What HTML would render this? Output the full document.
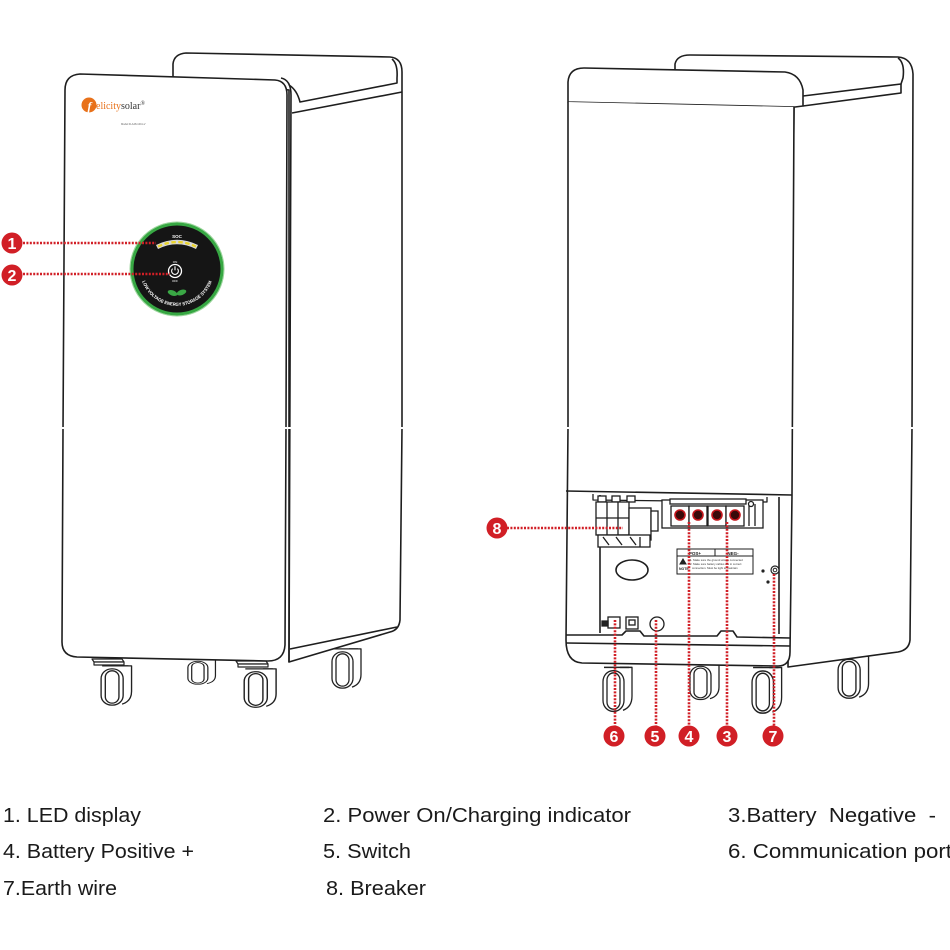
<!DOCTYPE html>
<html><head><meta charset="utf-8"><style>
html,body{margin:0;padding:0;background:#fff;}
svg{display:block;}
</style></head><body>
<svg width="950" height="950" viewBox="0 0 950 950" xmlns="http://www.w3.org/2000/svg">
<defs>
<g id="cst" stroke="#222" stroke-width="1.3" fill="none">
  <path d="M19,4 H31 V30 Q31,40 22,43"/>
  <rect x="2" y="7" width="21" height="37" rx="10" fill="#fff"/>
  <rect x="6" y="9" width="13" height="33" rx="6.5" fill="#fff"/>
  <path d="M3,4 H28"/>
</g>
<g id="lock" stroke="#222" stroke-width="1.2" fill="#fff">
  <path d="M0,0 H30 L32,3 H2 Z"/>
  <path d="M2,3 H32 V6 H2 Z"/>
</g>
<path id="arcp" d="M141.3,278.6 A37,37 0 0 0 212.7,278.6"/>
</defs>

<!-- ================= LEFT UNIT ================= -->
<g stroke="#1e1e1e" stroke-width="1.6" fill="none" stroke-linejoin="round">
  <!-- casters behind -->
  <use href="#cst" transform="translate(186,657) scale(0.95,0.62)"/>
  <use href="#cst" transform="translate(330,645) scale(1,0.98)"/>
  <!-- side/back -->
  <path d="M173,77 L173,64 Q174,54 186,53 L390,57 Q402,58 402,72 L402,428 L400,620 Q399,630 390,632 L289,662 L289,90 Z" fill="#fff"/>
  <path d="M392,59 Q398,64 397,78 L397,83 L300,102 Q297,90 289,85"/>
  <path d="M402,92 L292,113"/>
  <path d="M397,627 L290,649"/>
  <!-- front casters -->
  <use href="#cst" transform="translate(99,662) scale(1.05,0.98)"/>
  <use href="#lock" transform="translate(92,659)"/>
  <use href="#cst" transform="translate(242,665) scale(1.1,0.96)"/>
  <use href="#lock" transform="translate(236,661)"/>
  <!-- second edge -->
  <path d="M281,78 Q291,80 291,95 L289,662"/>
  <!-- front face -->
  <path d="M65,90 Q65,75 80,74 L275,80 Q287,81 287,95 L286,428 L285,645 Q284,661 268,661 L77,657 Q62,656 62,642 L63,431 L65,90 Z" fill="#fff"/>
</g>
<!-- seam breaks -->
<g fill="#fff">
  <rect x="60" y="427" width="7" height="2"/>
  <rect x="283" y="427" width="11" height="2"/>
  <rect x="399" y="427" width="6" height="2"/>
</g>

<!-- logo -->
<circle cx="89" cy="105" r="7.5" fill="#e8711a"/>
<text x="89.5" y="110" font-family="Liberation Serif, serif" font-weight="bold" font-style="italic" font-size="12" fill="#fff" text-anchor="middle">f</text>
<text x="96" y="109" font-family="Liberation Serif, serif" font-size="10" fill="#e8711a">elicity<tspan fill="#333">solar</tspan><tspan fill="#333" font-size="6" dy="-4">®</tspan></text>
<text x="121" y="125" font-family="Liberation Sans, sans-serif" font-size="2.6" fill="#666">Model:FLA48-100-LV</text>

<!-- display -->
<circle cx="177" cy="269" r="47" fill="none" stroke="#9bd59b" stroke-width="1"/>
<circle cx="177" cy="269" r="45" fill="#151515" stroke="#37a843" stroke-width="3"/>
<text x="177" y="238" font-family="Liberation Sans, sans-serif" font-weight="bold" font-size="4.5" fill="#fff" text-anchor="middle">SOC</text>
<path d="M157,247 Q177,237 197,247" fill="none" stroke="#d8d8d8" stroke-width="4.5"/>
<path d="M158,246.6 Q177,237.4 196,246.6" fill="none" stroke="#e9d32c" stroke-width="2.4" stroke-dasharray="4.5,2.5"/>
<text x="175" y="263" font-family="Liberation Sans, sans-serif" font-size="3" fill="#fff" text-anchor="middle">ON</text>
<circle cx="175" cy="271" r="6.5" fill="#111" stroke="#fff" stroke-width="1.3"/>
<path d="M172.6,268.6 A3.4,3.4 0 1 0 177.4,268.6" fill="none" stroke="#fff" stroke-width="1.1"/>
<path d="M175,266.3 V270.3" stroke="#fff" stroke-width="1.1"/>
<text x="175" y="282" font-family="Liberation Sans, sans-serif" font-size="3" fill="#fff" text-anchor="middle">OFF</text>
<ellipse cx="172.5" cy="293" rx="5" ry="2.6" fill="#3aa845" transform="rotate(20 172.5 293)"/>
<ellipse cx="181.5" cy="292.5" rx="5" ry="2.6" fill="#3aa845" transform="rotate(-20 181.5 292.5)"/>
<text font-family="Liberation Sans, sans-serif" font-weight="bold" font-size="4.6" fill="#fff"><textPath href="#arcp" startOffset="3" textLength="90" lengthAdjust="spacingAndGlyphs">LOW VOLTAGE ENERGY STORAGE SYSTEM</textPath></text>

<!-- ================= RIGHT UNIT ================= -->
<g stroke="#1e1e1e" stroke-width="1.6" fill="none" stroke-linejoin="round">
  <use href="#cst" transform="translate(688,660) scale(1,0.9)"/>
  <use href="#cst" transform="translate(836,652) scale(1.05,1.05)"/>
  <!-- handle/side -->
  <path d="M675,70 L675,64 Q677,55 690,55 L898,57 Q912,58 913,74 L912,428 L910,640 Q909,650 898,652 L788,667 L794,107 Z" fill="#fff"/>
  <path d="M898,58 Q905,63 903,78 L901,84 L803,96"/>
  <path d="M901,84 L901,93 L803,106"/>
  <use href="#cst" transform="translate(601,663) scale(1,1.1)"/>
  <use href="#cst" transform="translate(750,663) scale(1.02,1.14)"/>
  <!-- lid -->
  <path d="M568,102 L568,82 Q569,68 584,68 L785,72 Q800,74 803,90 L803,106 L795,107 L568,102 Z" fill="#fff"/>
  <!-- back face -->
  <path d="M568,102 L568,428 L566,640 Q566,662 582,663 L778,666 Q790,666 790,652 L792,495 L794,107" fill="#fff"/>
  <path d="M566,491 L792,495"/>
  <path d="M600,495 L600,633"/>
  <path d="M779,497 L779,634"/>
  <path d="M593,494 L593,500 L767,502 L767,497" stroke-width="1.3"/>
  <path d="M566,635 L622,635 L626,631 L640,631 L644,636 L717,636 L721,631 L733,631 L737,637 L790,638"/>
  <path d="M566,643 L790,646"/>
</g>
<g fill="#fff">
  <rect x="564" y="427" width="7" height="2"/>
  <rect x="790" y="427" width="7" height="2"/>
  <rect x="909" y="427" width="6" height="2"/>
</g>

<!-- breaker -->
<g stroke="#1e1e1e" stroke-width="1.3" fill="#fff">
  <rect x="598" y="496" width="8" height="6"/>
  <rect x="612" y="496" width="8" height="6"/>
  <rect x="627" y="496" width="8" height="6"/>
  <rect x="596" y="502" width="33" height="33"/>
  <path d="M607,502 V535 M618,502 V535 M596,518 H629" fill="none"/>
  <rect x="629" y="508" width="22" height="32"/>
  <rect x="651" y="511" width="7" height="20"/>
  <rect x="598" y="535" width="52" height="12"/>
  <path d="M603,537 L609,545 M616,537 L622,545 M630,537 L636,545 M640,537 V547" fill="none"/>
</g>
<!-- terminals -->
<g stroke="#1e1e1e" stroke-width="1.3" fill="#fff">
  <rect x="662" y="500" width="101" height="28"/>
  <rect x="670" y="499" width="76" height="5"/>
  <rect x="671" y="506" width="18" height="20"/>
  <rect x="689" y="506" width="18" height="20"/>
  <rect x="708" y="506" width="18" height="20"/>
  <rect x="726" y="506" width="18" height="20"/>
  <path d="M749,504 V526 M755,504 V526" fill="none"/>
  <circle cx="751" cy="504" r="2.5"/>
</g>
<g fill="#3a0a0a" stroke="#c4161c" stroke-width="1.6">
  <circle cx="680" cy="515" r="5"/>
  <circle cx="698" cy="515" r="5"/>
  <circle cx="717" cy="515" r="5"/>
  <circle cx="735" cy="515" r="5"/>
</g>
<!-- label -->
<g stroke="#1e1e1e" stroke-width="1" fill="#fff">
  <rect x="677" y="549" width="76" height="25"/>
  <path d="M677,556 H753 M715,549 V556" fill="none"/>
  <path d="M683,559 L686,564 L680,564 Z" fill="#222"/>
</g>
<text x="695" y="555" font-family="Liberation Sans, sans-serif" font-size="4.5" font-weight="bold" fill="#222" text-anchor="middle">POS+</text>
<text x="733" y="555" font-family="Liberation Sans, sans-serif" font-size="4.5" font-weight="bold" fill="#222" text-anchor="middle">NEG-</text>
<text x="679" y="570" font-family="Liberation Sans, sans-serif" font-size="3.5" font-weight="bold" fill="#222">NOTE</text>
<g font-family="Liberation Sans, sans-serif" font-size="2.8" fill="#333">
  <text x="690" y="561">1. Make sure the ground wire is connected</text>
  <text x="690" y="565">2. Make sure battery cables are in correct</text>
  <text x="692" y="569">connection. Must be tight to maintain</text>
</g>
<!-- oval, screws -->
<ellipse cx="632" cy="570" rx="16" ry="10" fill="none" stroke="#1e1e1e" stroke-width="1.6"/>
<circle cx="763" cy="571" r="1.6" fill="#222"/>
<circle cx="768" cy="582" r="1.6" fill="#222"/>
<circle cx="775" cy="570" r="4" fill="#fff" stroke="#222" stroke-width="1.2"/>
<circle cx="775" cy="570" r="1.8" fill="none" stroke="#222" stroke-width="1"/>
<!-- ports -->
<g stroke="#1e1e1e" stroke-width="1.3" fill="#fff">
  <rect x="608" y="617" width="12" height="11"/>
  <path d="M602,621 H608 V626 H602 Z" fill="#222"/>
  <rect x="626" y="617" width="12" height="12"/>
  <rect x="629" y="620" width="6" height="5"/>
  <circle cx="657" cy="624" r="7"/>
</g>

<!-- ================= RED CALLOUTS ================= -->
<g stroke="#d11f26" stroke-width="2.6" stroke-dasharray="2,1.4" fill="none">
  <path d="M23,243 H156"/>
  <path d="M23,274 H170"/>
  <path d="M507,528 H623"/>
  <path d="M615,620 V726"/>
  <path d="M656,620 V726"/>
  <path d="M689,522 V726"/>
  <path d="M727,522 V726"/>
  <path d="M774,574 V726"/>
</g>
<g fill="#d11f26">
  <circle cx="12" cy="243" r="10.5"/>
  <circle cx="12" cy="275" r="10.5"/>
  <circle cx="497" cy="528" r="10.5"/>
  <circle cx="614" cy="736" r="10.5"/>
  <circle cx="655" cy="736" r="10.5"/>
  <circle cx="689" cy="736" r="10.5"/>
  <circle cx="727" cy="736" r="10.5"/>
  <circle cx="773" cy="736" r="10.5"/>
</g>
<g font-family="Liberation Sans, sans-serif" font-weight="bold" font-size="16" fill="#fff" text-anchor="middle">
  <text x="12" y="249">1</text>
  <text x="12" y="281">2</text>
  <text x="497" y="534">8</text>
  <text x="614" y="742">6</text>
  <text x="655" y="742">5</text>
  <text x="689" y="742">4</text>
  <text x="727" y="742">3</text>
  <text x="773" y="742">7</text>
</g>

<!-- ================= LEGEND ================= -->
<g font-family="Liberation Sans, sans-serif" font-size="20" fill="#1a1a1a">
  <text x="3" y="822" textLength="138" lengthAdjust="spacingAndGlyphs">1. LED display</text>
  <text x="323" y="822" textLength="308" lengthAdjust="spacingAndGlyphs">2. Power On/Charging indicator</text>
  <text x="728" y="822" textLength="208" lengthAdjust="spacingAndGlyphs" xml:space="preserve">3.Battery  Negative  -</text>
  <text x="3" y="858" textLength="191" lengthAdjust="spacingAndGlyphs">4. Battery Positive +</text>
  <text x="323" y="858" textLength="88" lengthAdjust="spacingAndGlyphs">5. Switch</text>
  <text x="728" y="858" textLength="224" lengthAdjust="spacingAndGlyphs">6. Communication port</text>
  <text x="3" y="895" textLength="114" lengthAdjust="spacingAndGlyphs">7.Earth wire</text>
  <text x="326" y="895" textLength="100" lengthAdjust="spacingAndGlyphs">8. Breaker</text>
</g>
</svg>
</body></html>
